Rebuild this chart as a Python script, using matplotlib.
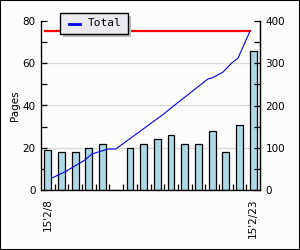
import matplotlib
matplotlib.use("Agg")
import matplotlib.pyplot as plt
from matplotlib.patches import Rectangle
import numpy as np

# daily pages, 15'2/8 .. 15'2/23
days = ["15'2/8", "15'2/9", "15'2/10", "15'2/11", "15'2/12", "15'2/13", "15'2/14", "15'2/15",
        "15'2/16", "15'2/17", "15'2/18", "15'2/19", "15'2/20", "15'2/21", "15'2/22", "15'2/23"]
pages = [19, 18, 18, 20, 22, 0, 20, 22, 24, 26, 22, 22, 28, 18, 31, 66]

# running total (right axis)
total_x = [0.28, 1.25, 2.71, 3.2, 4.39, 4.96, 8.43, 8.92, 11.7, 11.99, 12.79, 13.45, 13.89, 14.77]
total_y = [28, 43, 71, 85, 97, 97, 179, 192, 263, 265, 279, 301, 312, 376]

# target line (right axis)
target_x = [-0.21, 14.77]
target_y = [376, 376]

fs = 7.5
fig = plt.figure(figsize=(3.0, 2.5), dpi=100)
fig.patch.set_facecolor('#fcfcfc')
fig.patches.append(Rectangle((0, 0), 1, 1, transform=fig.transFigure, fill=False,
                             edgecolor='black', linewidth=1.5, zorder=10))

ax = fig.add_axes([41/300, 1-190/250, 219/300, 169/250])
ax.set_facecolor('#fcfcfc')
x = np.arange(len(days))
ax.bar(x, pages, width=0.5, color='#add8e6', edgecolor='black', linewidth=0.9, zorder=2)
ax.set_xlim(-0.5, len(days) - 0.5)
ax.set_ylim(0, 80)
ax.set_yticks([0, 20, 40, 60, 80])
ax.set_yticks([10, 30, 50, 70], minor=True)
for g in [20, 40, 60]:
    ax.axhline(g, color='#d9d9d9', linewidth=0.9, zorder=0)
ax.set_ylabel('Pages', fontsize=fs, labelpad=2)

# bottom: ticks at boundaries, labels only at first/last day
ax.set_xticks(np.arange(0.5, len(days) - 1, 1.0))
ax.set_xticklabels([])
ax.set_xticks([0, len(days) - 1], minor=True)
ax.set_xticklabels([days[0], days[-1]], minor=True, rotation=90, fontsize=fs)
ax.tick_params(axis='x', which='major', direction='in', length=4, width=0.9)
ax.tick_params(axis='x', which='minor', length=0, pad=6)
ax.tick_params(axis='y', which='both', direction='in', length=4, width=0.9, labelsize=fs, pad=4)
ax.spines['top'].set_visible(False)
for s in ['left', 'bottom', 'right']:
    ax.spines[s].set_linewidth(0.9)

ax2 = ax.twinx()
ax2.set_ylim(0, 400)
ax2.set_yticks([0, 100, 200, 300, 400])
ax2.set_yticks([50, 150, 250, 350], minor=True)
ax2.tick_params(axis='y', which='both', direction='in', length=4, width=0.9, labelsize=fs, pad=4)
ax2.spines['top'].set_visible(False)
ax2.spines['right'].set_linewidth(0.9)
ax2.plot(target_x, target_y, color='red', linewidth=1.6, zorder=3)
line, = ax2.plot(total_x, total_y, color='blue', linewidth=0.8, zorder=3, label='Total')

# legend box with drop shadow
lx, ly, lw, lh = 60/300, 1-34/250, 68/300, 21/250
fig.patches.append(Rectangle((lx + 3/300, ly - 3/250), lw, lh, transform=fig.transFigure,
                             facecolor='#c0c0c0', edgecolor='none', zorder=11))
fig.patches.append(Rectangle((lx, ly), lw, lh, transform=fig.transFigure,
                             facecolor='#eceaf0', edgecolor='black', linewidth=1.0, zorder=12))
fig.lines.append(plt.Line2D([lx + 9/300, lx + 20/300], [ly + lh/2, ly + lh/2],
                            transform=fig.transFigure, color='blue', linewidth=2, zorder=13))
fig.text(lx + 28/300, ly + lh/2, 'Total', fontsize=fs + 0.5, va='center', ha='left', zorder=13,
         family='DejaVu Sans Mono')

fig.savefig('out.png', dpi=100, facecolor=fig.get_facecolor())
